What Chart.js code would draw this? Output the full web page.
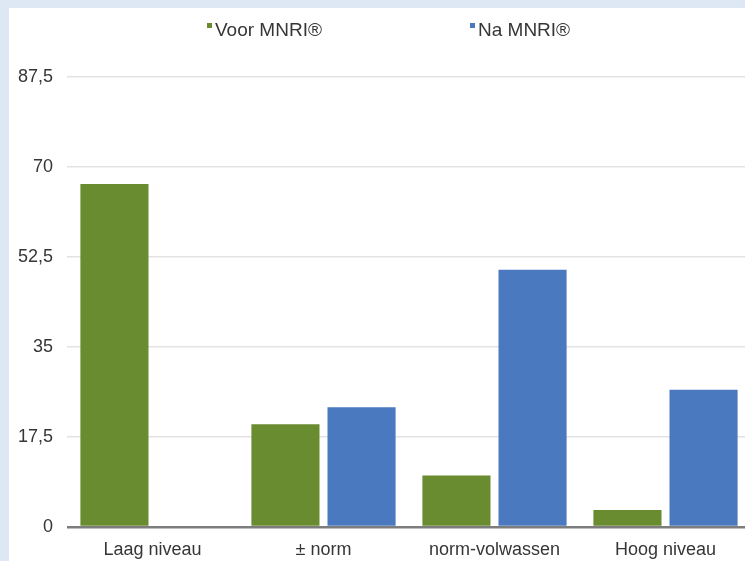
<!DOCTYPE html>
<html>
<head>
<meta charset="utf-8">
<script src="https://cdn.jsdelivr.net/npm/chart.js@4/dist/chart.umd.min.js"></script>
<style>
    html, body { margin: 0; padding: 0; overflow: hidden; }
    body { background: #dde8f4; width: 745px; height: 561px; position: relative; }
    #wrap { position: absolute; left: 9px; top: 8px; width: 742px; height: 553px; background: #fff; }
</style>
</head>
<body>
<div id="wrap"><canvas id="chart-mnri"></canvas></div>
<script>
    // Data
    const categories = ['Laag niveau', '\u00b1 norm', 'norm-volwassen', 'Hoog niveau'];
    const voorValues = [66.7, 20, 10, 3.3];
    const naValues = [0, 23.3, 50, 26.7];
    const seriesLabels = ['Voor MNRI\u00ae', 'Na MNRI\u00ae'];
    const yTicks = [0, 17.5, 35, 52.5, 70, 87.5];

    const green = '#6a8c30';
    const blue = '#4a79bf';
    const fontFamily = '"Liberation Sans", Arial, Helvetica, sans-serif';

    // Legende dessinee a la main (petits carres en haut a gauche du texte)
    const topLegend = {
        id: 'topLegend',
        afterDraw(chart, args, opts) {
            const ctx = chart.ctx;
            ctx.save();
            ctx.font = '19px ' + fontFamily;
            ctx.textBaseline = 'middle';
            chart.data.datasets.forEach(function(ds, i) {
                const x = opts.xs[i];
                ctx.fillStyle = ds.backgroundColor;
                ctx.fillRect(x, 15, 5, 5);
                ctx.fillStyle = '#363636';
                ctx.fillText(ds.label, x + 8, 23);
            });
            ctx.restore();
        }
    };

    new Chart(document.getElementById('chart-mnri'), {
        type: 'bar',
        data: {
            labels: categories,
            datasets: [{
                label: seriesLabels[0],
                data: voorValues,
                backgroundColor: green,
                categoryPercentage: 0.89,
                barPercentage: 0.895
            }, {
                label: seriesLabels[1],
                data: naValues,
                backgroundColor: blue,
                categoryPercentage: 0.89,
                barPercentage: 0.895
            }]
        },
        options: {
            responsive: true,
            maintainAspectRatio: false,
            animation: false,
            layout: { padding: { top: 69, right: 0, left: 0, bottom: 0 } },
            plugins: {
                legend: { display: false },
                tooltip: { enabled: false },
                topLegend: { xs: [198, 461] }
            },
            scales: {
                x: {
                    grid: { display: false, drawTicks: false },
                    border: { display: false },
                    ticks: {
                        color: '#363636',
                        padding: 12,
                        font: { family: fontFamily, size: 18 },
                        maxRotation: 0
                    },
                    afterFit: function(axis) { axis.height = 34; }
                },
                y: {
                    min: 0,
                    max: 87.5,
                    afterBuildTicks: function(axis) {
                        axis.ticks = yTicks.map(function(v) { return { value: v }; });
                    },
                    grid: {
                        drawTicks: false,
                        color: function(c) { return c.tick && c.tick.value === 0 ? '#7d7d7d' : '#e3e3e3'; },
                        lineWidth: function(c) { return c.tick && c.tick.value === 0 ? 2.5 : 1.5; }
                    },
                    border: { display: false },
                    ticks: {
                        color: '#363636',
                        padding: 14,
                        font: { family: fontFamily, size: 18 },
                        callback: function(v) { return String(v).replace('.', ','); }
                    },
                    afterFit: function(axis) { axis.width = 58; }
                }
            }
        },
        plugins: [topLegend]
    });
</script>
</body>
</html>
